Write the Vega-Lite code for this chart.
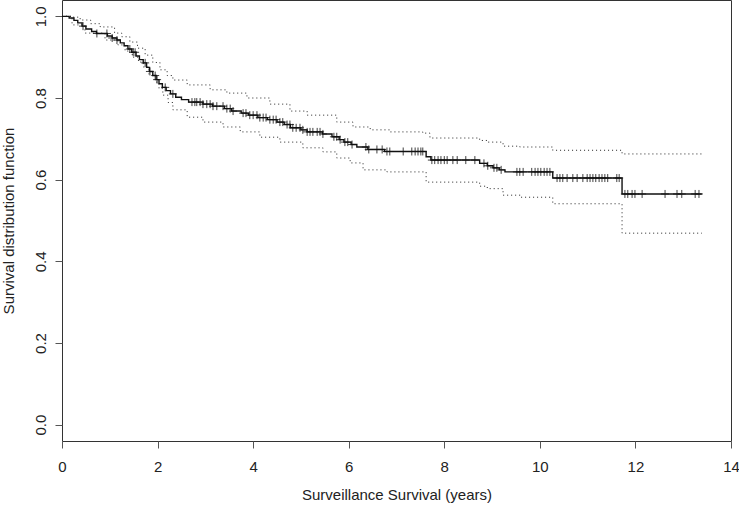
{
  "$schema": "https://vega.github.io/schema/vega-lite/v6.json",
  "width": 669,
  "height": 441,
  "autosize": "none",
  "padding": {"left": 62, "top": 0, "right": 8, "bottom": 69},
  "background": "white",
  "config": {
    "view": {"stroke": "#333333", "strokeWidth": 1},
    "font": "Liberation Sans",
    "axis": {"grid": false, "domain": false, "tickColor": "#555555", "tickSize": 7, "labelFont": "Liberation Sans", "titleFont": "Liberation Sans", "labelFontSize": 15, "titleFontSize": 15, "labelColor": "#222222", "titleColor": "#222222", "titleFontWeight": "normal"}
  },
  "datasets": {
    "surv": [
      {"t": 0, "s": 1.0}, {"t": 0.15, "s": 0.996}, {"t": 0.25, "s": 0.99}, {"t": 0.33, "s": 0.984}, {"t": 0.42, "s": 0.976},
      {"t": 0.5, "s": 0.969}, {"t": 0.62, "s": 0.963}, {"t": 0.72, "s": 0.958}, {"t": 0.95, "s": 0.952}, {"t": 1.05, "s": 0.947},
      {"t": 1.15, "s": 0.942}, {"t": 1.22, "s": 0.935}, {"t": 1.3, "s": 0.928}, {"t": 1.38, "s": 0.92}, {"t": 1.46, "s": 0.912},
      {"t": 1.55, "s": 0.903}, {"t": 1.62, "s": 0.894}, {"t": 1.7, "s": 0.886}, {"t": 1.77, "s": 0.875}, {"t": 1.83, "s": 0.865},
      {"t": 1.9, "s": 0.855}, {"t": 1.97, "s": 0.845}, {"t": 2.03, "s": 0.835}, {"t": 2.1, "s": 0.826}, {"t": 2.18, "s": 0.818},
      {"t": 2.27, "s": 0.81}, {"t": 2.38, "s": 0.802}, {"t": 2.5, "s": 0.796}, {"t": 2.65, "s": 0.79}, {"t": 2.95, "s": 0.785},
      {"t": 3.15, "s": 0.78}, {"t": 3.4, "s": 0.774}, {"t": 3.55, "s": 0.768}, {"t": 3.75, "s": 0.763}, {"t": 3.9, "s": 0.758},
      {"t": 4.1, "s": 0.752}, {"t": 4.3, "s": 0.747}, {"t": 4.5, "s": 0.741}, {"t": 4.65, "s": 0.735}, {"t": 4.78, "s": 0.727},
      {"t": 5.0, "s": 0.722}, {"t": 5.13, "s": 0.717}, {"t": 5.45, "s": 0.712}, {"t": 5.65, "s": 0.705}, {"t": 5.8, "s": 0.698},
      {"t": 5.9, "s": 0.692}, {"t": 6.05, "s": 0.686}, {"t": 6.17, "s": 0.68}, {"t": 6.4, "s": 0.674}, {"t": 6.75, "s": 0.669},
      {"t": 7.62, "s": 0.656}, {"t": 7.72, "s": 0.648}, {"t": 8.74, "s": 0.64}, {"t": 8.9, "s": 0.634}, {"t": 9.02, "s": 0.629},
      {"t": 9.15, "s": 0.624}, {"t": 9.27, "s": 0.619}, {"t": 10.27, "s": 0.604}, {"t": 11.72, "s": 0.565}, {"t": 13.39, "s": 0.565}
    ],
    "upper": [
      {"t": 0, "s": 1.0}, {"t": 0.2, "s": 0.998}, {"t": 0.38, "s": 0.991}, {"t": 0.6, "s": 0.982}, {"t": 0.8, "s": 0.974},
      {"t": 1.1, "s": 0.959}, {"t": 1.25, "s": 0.95}, {"t": 1.42, "s": 0.937}, {"t": 1.58, "s": 0.922}, {"t": 1.74, "s": 0.905},
      {"t": 1.9, "s": 0.887}, {"t": 2.05, "s": 0.869}, {"t": 2.2, "s": 0.855}, {"t": 2.32, "s": 0.844}, {"t": 2.62, "s": 0.832},
      {"t": 3.1, "s": 0.82}, {"t": 3.45, "s": 0.812}, {"t": 3.87, "s": 0.8}, {"t": 4.35, "s": 0.785}, {"t": 4.77, "s": 0.768},
      {"t": 5.13, "s": 0.758}, {"t": 5.75, "s": 0.741}, {"t": 6.09, "s": 0.729}, {"t": 6.45, "s": 0.722}, {"t": 6.86, "s": 0.717},
      {"t": 7.55, "s": 0.714}, {"t": 7.7, "s": 0.702}, {"t": 8.74, "s": 0.696}, {"t": 8.9, "s": 0.692}, {"t": 9.23, "s": 0.682},
      {"t": 9.58, "s": 0.68}, {"t": 10.27, "s": 0.672}, {"t": 11.72, "s": 0.663}, {"t": 13.39, "s": 0.663}
    ],
    "lower": [
      {"t": 0, "s": 1.0}, {"t": 0.21, "s": 0.979}, {"t": 0.48, "s": 0.959}, {"t": 0.9, "s": 0.942}, {"t": 1.17, "s": 0.93},
      {"t": 1.32, "s": 0.915}, {"t": 1.47, "s": 0.9}, {"t": 1.6, "s": 0.888}, {"t": 1.7, "s": 0.876}, {"t": 1.82, "s": 0.858},
      {"t": 1.95, "s": 0.839}, {"t": 2.03, "s": 0.823}, {"t": 2.11, "s": 0.807}, {"t": 2.22, "s": 0.789}, {"t": 2.32, "s": 0.771},
      {"t": 2.62, "s": 0.753}, {"t": 2.95, "s": 0.741}, {"t": 3.37, "s": 0.729}, {"t": 3.73, "s": 0.717}, {"t": 4.14, "s": 0.704},
      {"t": 4.56, "s": 0.692}, {"t": 5.04, "s": 0.678}, {"t": 5.46, "s": 0.668}, {"t": 5.75, "s": 0.653}, {"t": 6.03, "s": 0.641},
      {"t": 6.3, "s": 0.624}, {"t": 6.8, "s": 0.619}, {"t": 7.62, "s": 0.594}, {"t": 8.74, "s": 0.584}, {"t": 8.9, "s": 0.578},
      {"t": 9.23, "s": 0.562}, {"t": 9.6, "s": 0.557}, {"t": 10.27, "s": 0.541}, {"t": 11.72, "s": 0.469}, {"t": 13.39, "s": 0.469}
    ],
    "cens": [
      {"t": 0.44, "s": 0.976}, {"t": 0.73, "s": 0.958}, {"t": 0.94, "s": 0.958}, {"t": 1.05, "s": 0.947}, {"t": 1.15, "s": 0.942},
      {"t": 1.42, "s": 0.92}, {"t": 1.49, "s": 0.912}, {"t": 1.53, "s": 0.912}, {"t": 1.74, "s": 0.886}, {"t": 1.84, "s": 0.865},
      {"t": 1.95, "s": 0.855}, {"t": 1.99, "s": 0.845}, {"t": 2.16, "s": 0.826}, {"t": 2.32, "s": 0.81},
      {"t": 2.72, "s": 0.79}, {"t": 2.78, "s": 0.79}, {"t": 2.82, "s": 0.79}, {"t": 2.89, "s": 0.79}, {"t": 2.95, "s": 0.785},
      {"t": 3.03, "s": 0.785}, {"t": 3.1, "s": 0.785}, {"t": 3.16, "s": 0.78}, {"t": 3.24, "s": 0.78}, {"t": 3.37, "s": 0.78},
      {"t": 3.45, "s": 0.774}, {"t": 3.52, "s": 0.774}, {"t": 3.58, "s": 0.768}, {"t": 3.79, "s": 0.763}, {"t": 3.85, "s": 0.763},
      {"t": 3.93, "s": 0.758}, {"t": 4.0, "s": 0.758}, {"t": 4.08, "s": 0.758}, {"t": 4.14, "s": 0.752}, {"t": 4.21, "s": 0.752},
      {"t": 4.27, "s": 0.752}, {"t": 4.35, "s": 0.747}, {"t": 4.42, "s": 0.747}, {"t": 4.48, "s": 0.747}, {"t": 4.56, "s": 0.741},
      {"t": 4.62, "s": 0.741}, {"t": 4.71, "s": 0.735}, {"t": 4.77, "s": 0.735}, {"t": 4.83, "s": 0.727}, {"t": 4.9, "s": 0.727},
      {"t": 4.98, "s": 0.727}, {"t": 5.04, "s": 0.722}, {"t": 5.13, "s": 0.717}, {"t": 5.19, "s": 0.717}, {"t": 5.25, "s": 0.717},
      {"t": 5.34, "s": 0.717}, {"t": 5.4, "s": 0.717}, {"t": 5.46, "s": 0.712}, {"t": 5.69, "s": 0.705}, {"t": 5.75, "s": 0.705},
      {"t": 5.82, "s": 0.698}, {"t": 5.92, "s": 0.692}, {"t": 5.98, "s": 0.692}, {"t": 6.07, "s": 0.686}, {"t": 6.36, "s": 0.68},
      {"t": 6.42, "s": 0.674}, {"t": 6.59, "s": 0.674}, {"t": 6.7, "s": 0.674}, {"t": 6.8, "s": 0.669}, {"t": 6.86, "s": 0.669},
      {"t": 7.14, "s": 0.669}, {"t": 7.32, "s": 0.669}, {"t": 7.39, "s": 0.669}, {"t": 7.45, "s": 0.669}, {"t": 7.51, "s": 0.669},
      {"t": 7.55, "s": 0.669}, {"t": 7.74, "s": 0.648}, {"t": 7.8, "s": 0.648}, {"t": 7.87, "s": 0.648}, {"t": 7.93, "s": 0.648},
      {"t": 8.0, "s": 0.648}, {"t": 8.06, "s": 0.648}, {"t": 8.18, "s": 0.648}, {"t": 8.27, "s": 0.648}, {"t": 8.45, "s": 0.648},
      {"t": 8.64, "s": 0.648}, {"t": 8.83, "s": 0.64}, {"t": 8.91, "s": 0.634}, {"t": 9.04, "s": 0.629}, {"t": 9.1, "s": 0.629},
      {"t": 9.19, "s": 0.624}, {"t": 9.52, "s": 0.619}, {"t": 9.58, "s": 0.619}, {"t": 9.65, "s": 0.619}, {"t": 9.83, "s": 0.619},
      {"t": 9.9, "s": 0.619}, {"t": 9.96, "s": 0.619}, {"t": 10.02, "s": 0.619}, {"t": 10.09, "s": 0.619}, {"t": 10.15, "s": 0.619},
      {"t": 10.21, "s": 0.619}, {"t": 10.36, "s": 0.604}, {"t": 10.42, "s": 0.604}, {"t": 10.48, "s": 0.604}, {"t": 10.57, "s": 0.604},
      {"t": 10.69, "s": 0.604}, {"t": 10.78, "s": 0.604}, {"t": 10.9, "s": 0.604}, {"t": 10.99, "s": 0.604}, {"t": 11.05, "s": 0.604},
      {"t": 11.11, "s": 0.604}, {"t": 11.17, "s": 0.604}, {"t": 11.24, "s": 0.604}, {"t": 11.3, "s": 0.604}, {"t": 11.36, "s": 0.604},
      {"t": 11.42, "s": 0.604}, {"t": 11.61, "s": 0.604}, {"t": 11.66, "s": 0.604}, {"t": 11.78, "s": 0.565}, {"t": 11.84, "s": 0.565},
      {"t": 11.93, "s": 0.565}, {"t": 11.99, "s": 0.565}, {"t": 12.14, "s": 0.565}, {"t": 12.62, "s": 0.565}, {"t": 12.87, "s": 0.565},
      {"t": 12.97, "s": 0.565}, {"t": 13.25, "s": 0.565}, {"t": 13.33, "s": 0.565}
    ]
  },
  "encoding": {
    "x": {"field": "t", "type": "quantitative", "scale": {"domain": [0, 14], "nice": false, "zero": false},
      "axis": {"values": [0, 2, 4, 6, 8, 10, 12, 14], "title": "Surveillance Survival (years)", "labelPadding": 11, "titlePadding": 13, "labelFlush": false}},
    "y": {"field": "s", "type": "quantitative", "scale": {"domain": [-0.04, 1.04], "nice": false, "zero": false},
      "axis": {"values": [0, 0.2, 0.4, 0.6, 0.8, 1.0], "format": ".1f", "title": "Survival distribution function", "labelAngle": -90, "labelAlign": "center", "labelBaseline": "bottom", "labelPadding": 7, "titleX": -46, "titleBaseline": "bottom", "titleAngle": -90}}
  },
  "layer": [
    {"data": {"name": "upper"}, "mark": {"type": "line", "interpolate": "step-after", "color": "#222222", "strokeWidth": 1, "strokeDash": [1, 3]}},
    {"data": {"name": "lower"}, "mark": {"type": "line", "interpolate": "step-after", "color": "#222222", "strokeWidth": 1, "strokeDash": [1, 3]}},
    {"data": {"name": "surv"}, "mark": {"type": "line", "interpolate": "step-after", "color": "#111111", "strokeWidth": 1.4}},
    {"data": {"name": "cens"}, "mark": {"type": "point", "shape": "M-1,0H1M0,-1V1", "size": 64, "filled": false, "stroke": "#111111", "strokeWidth": 1, "opacity": 0.8}}
  ]
}
